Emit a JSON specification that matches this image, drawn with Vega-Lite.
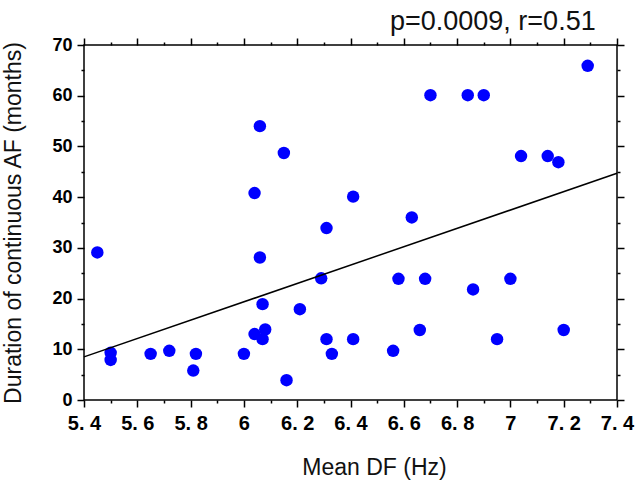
{
  "$schema": "https://vega.github.io/schema/vega-lite/v6.json",
  "width": 533,
  "height": 355,
  "autosize": {"type": "none"},
  "padding": {"left": 84, "top": 45, "right": 24, "bottom": 93},
  "background": "white",
  "config": {
    "view": {"stroke": "black", "strokeWidth": 1.5},
    "axis": {"grid": false, "domain": false, "tickColor": "black", "tickWidth": 1.5, "labelColor": "black", "titleColor": "black"}
  },
  "title": {"text": "p=0.0009, r=0.51", "anchor": "end", "fontSize": 27, "fontWeight": "normal", "font": "Liberation Sans", "color": "#111111", "dx": -38, "offset": 0},
  "datasets": {
    "pts": [
      {"df": 5.45, "dur": 29.1}, {"df": 5.50, "dur": 9.3}, {"df": 5.50, "dur": 7.9}, {"df": 5.65, "dur": 9.1},
      {"df": 5.72, "dur": 9.7}, {"df": 5.82, "dur": 9.1}, {"df": 5.81, "dur": 5.8}, {"df": 6.00, "dur": 9.1},
      {"df": 6.06, "dur": 28.1}, {"df": 6.07, "dur": 18.9}, {"df": 6.04, "dur": 13.0}, {"df": 6.08, "dur": 13.9},
      {"df": 6.07, "dur": 12.0}, {"df": 6.16, "dur": 3.9}, {"df": 6.21, "dur": 17.9}, {"df": 6.31, "dur": 33.9},
      {"df": 6.29, "dur": 24.0}, {"df": 6.31, "dur": 12.0}, {"df": 6.33, "dur": 9.1}, {"df": 6.41, "dur": 12.0},
      {"df": 6.06, "dur": 54.0}, {"df": 6.15, "dur": 48.7}, {"df": 6.04, "dur": 40.8}, {"df": 6.41, "dur": 40.1},
      {"df": 7.29, "dur": 65.9}, {"df": 6.70, "dur": 60.1}, {"df": 6.84, "dur": 60.1}, {"df": 6.90, "dur": 60.1},
      {"df": 7.04, "dur": 48.1}, {"df": 7.14, "dur": 48.1}, {"df": 7.18, "dur": 46.9}, {"df": 6.63, "dur": 36.0},
      {"df": 6.58, "dur": 23.9}, {"df": 6.68, "dur": 23.9}, {"df": 6.86, "dur": 21.8}, {"df": 7.00, "dur": 23.9},
      {"df": 6.66, "dur": 13.8}, {"df": 6.56, "dur": 9.7}, {"df": 6.95, "dur": 12.0}, {"df": 7.20, "dur": 13.8}
    ],
    "fit": [{"df": 5.4, "dur": 8.5}, {"df": 7.4, "dur": 44.7}]
  },
  "resolve": {"axis": {"x": "independent", "y": "independent"}},
  "layer": [
    {
      "data": {"name": "pts"},
      "mark": {"type": "point", "filled": true, "color": "#0000FF", "opacity": 1, "size": 155, "shape": "circle"},
      "encoding": {
        "x": {"field": "df", "type": "quantitative", "scale": {"domain": [5.4, 7.4], "nice": false, "zero": false},
          "axis": {"orient": "bottom", "values": [5.4, 5.6, 5.8, 6.0, 6.2, 6.4, 6.6, 6.8, 7.0, 7.2, 7.4], "format": "~g",
            "labelExpr": "replace(datum.label, '.', '. ')", "tickSize": 7,
            "labelFont": "Liberation Sans", "labelFontWeight": "bold", "labelFontSize": 20, "labelPadding": 6,
            "labelFlush": false, "labelOverlap": false,
            "title": "Mean DF (Hz)", "titleFont": "Liberation Sans", "titleFontSize": 23, "titleFontWeight": "normal", "titleColor": "#111111", "titleY": 56, "titleX": 290}},
        "y": {"field": "dur", "type": "quantitative", "scale": {"domain": [0, 70], "nice": false},
          "axis": {"orient": "left", "values": [0, 10, 20, 30, 40, 50, 60, 70], "tickSize": 7,
            "labelFont": "Liberation Sans", "labelFontWeight": "bold", "labelFontSize": 18, "labelPadding": 5,
            "labelFlush": false, "labelOverlap": false,
            "title": "Duration of continuous AF (months)", "titleFont": "Liberation Sans", "titleFontSize": 23, "titleFontWeight": "normal", "titleColor": "#111111", "titleX": -59}}
      }
    },
    {
      "data": {"name": "fit"},
      "mark": {"type": "line", "color": "black", "strokeWidth": 1.5},
      "encoding": {
        "x": {"field": "df", "type": "quantitative",
          "axis": {"orient": "top", "values": [5.4, 5.6, 5.8, 6.0, 6.2, 6.4, 6.6, 6.8, 7.0, 7.2, 7.4], "tickSize": 7, "labels": false, "title": null}},
        "y": {"field": "dur", "type": "quantitative",
          "axis": {"orient": "right", "values": [0, 10, 20, 30, 40, 50, 60, 70], "tickSize": 7, "labels": false, "title": null}}
      }
    },
    {
      "data": {"name": "fit"},
      "mark": {"type": "point", "opacity": 0},
      "encoding": {
        "x": {"field": "df", "type": "quantitative",
          "axis": {"orient": "bottom", "values": [5.5, 5.7, 5.9, 6.1, 6.3, 6.5, 6.7, 6.9, 7.1, 7.3], "tickSize": 3, "labels": false, "title": null}},
        "y": {"field": "dur", "type": "quantitative",
          "axis": {"orient": "left", "values": [5, 15, 25, 35, 45, 55, 65], "tickSize": 3, "labels": false, "title": null}}
      }
    },
    {
      "data": {"name": "fit"},
      "mark": {"type": "point", "opacity": 0},
      "encoding": {
        "x": {"field": "df", "type": "quantitative",
          "axis": {"orient": "top", "values": [5.5, 5.7, 5.9, 6.1, 6.3, 6.5, 6.7, 6.9, 7.1, 7.3], "tickSize": 3, "labels": false, "title": null}},
        "y": {"field": "dur", "type": "quantitative",
          "axis": {"orient": "right", "values": [5, 15, 25, 35, 45, 55, 65], "tickSize": 3, "labels": false, "title": null}}
      }
    }
  ]
}
